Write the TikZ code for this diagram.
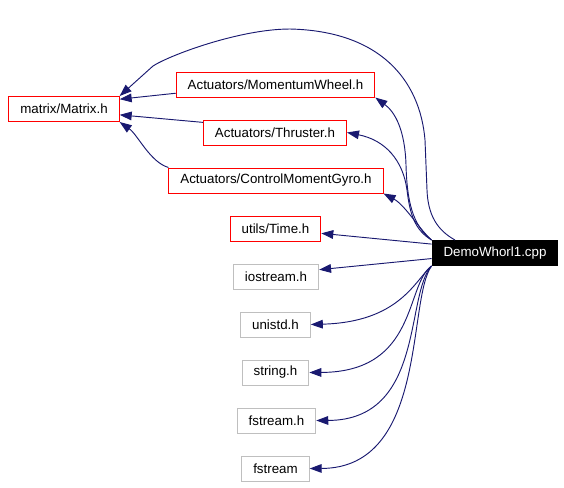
\documentclass[tikz,border=0pt]{standalone}
\usepackage{fontspec}
\setmainfont{Liberation Sans}
\usetikzlibrary{arrows.meta}
\definecolor{edgeblue}{HTML}{191970}
\definecolor{sysgrey}{HTML}{BFBFBF}
\tikzset{box/.style={draw=red,line width=0.75pt,inner xsep=8.6pt,inner ysep=0pt,minimum height=18.75pt,font=\fontsize{10}{12}\selectfont},
  sysbox/.style={box,draw=sysgrey},
  rootbox/.style={box,draw=black,fill=black,text=white},
  dep/.style={-{Triangle[length=9pt,width=6.5pt]},edgeblue,line width=0.7pt}}

\begin{document}
\begin{tikzpicture}[x=0.75pt,y=-0.75pt]
\useasboundingbox (0,0) rectangle (564,487);
\node[box] (matrix) at (64,109) {matrix/Matrix.h};
\node[box] (wheel) at (275.5,84.5) {Actuators/MomentumWheel.h};
\node[box] (thruster) at (275,132.5) {Actuators/Thruster.h};
\node[box] (gyro) at (276,180.5) {Actuators/ControlMomentGyro.h};
\node[box] (time) at (275.5,228.5) {utils/Time.h};
\node[rootbox] (demo) at (495,253) {DemoWhorl1.cpp};
\foreach \n/\t/\x/\y in {iostream/iostream.h/276/276.5,unistd/unistd.h/275.5/324.5,
  string/string.h/275.5/372.5,fstreamh/fstream.h/276.5/420.5,fstream/fstream/275.5/468.5}
  \node[sysbox] (\n) at (\x,\y) {\t};

\draw[dep] (wheel.185) -- (matrix.10);
\draw[dep] (thruster.172.5) -- (matrix.-6);
\draw[dep] (gyro.north west) .. controls (150,162) and (138,135) .. (matrix.south east);
\draw[dep] (demo.162) .. controls (437,230) and (428,215) .. (427,190) -- (425,140)
  .. controls (420,80) and (380,31) .. (290,29) .. controls (240,29) and (170,55) .. (153,66)
  -- (matrix.north east);
\draw[dep] (demo.north west) .. controls (412,225) and (407,200) .. (406,165)
  .. controls (405,130) and (395,112) .. (wheel.south east);
\draw[dep] (demo.north west) .. controls (415,230) and (410,215) .. (407,190)
  .. controls (403,160) and (385,140) .. (thruster.east);
\draw[dep] (demo.north west) .. controls (420,230) and (405,205) .. (gyro.south east);
\draw[dep] (demo.172) -- (time.-6);
\draw[dep] (demo.185) -- (iostream.9);
\draw[dep] (demo.south west) .. controls (415,280) and (400,322) .. (unistd.east);
\draw[dep] (demo.south west) .. controls (405,285) and (418,372) .. (string.east);
\draw[dep] (demo.south west) .. controls (405,295) and (425,420) .. (fstreamh.east);
\draw[dep] (demo.south west) .. controls (407,300) and (428,468) .. (fstream.east);
\end{tikzpicture}
\end{document}
